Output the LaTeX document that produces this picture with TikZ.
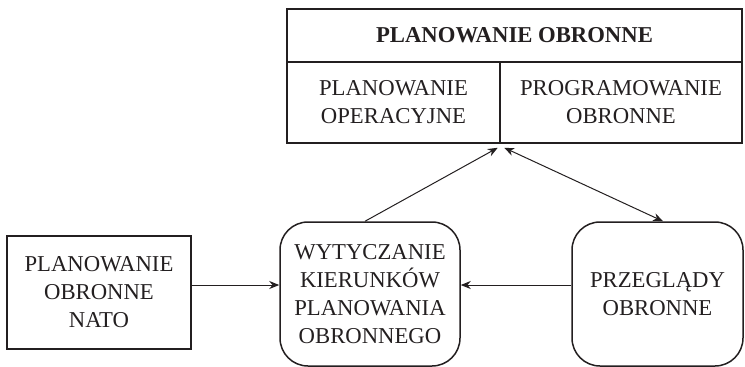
\documentclass[tikz,border=0pt]{standalone}
\usepackage{fontspec}
\setmainfont{Liberation Serif}
\usepackage{tikz}
\usetikzlibrary{arrows.meta,positioning}
\usepackage{xcolor}
\definecolor{dfdark}{RGB}{35,31,32}
\tikzstyle{arrow} = [line width=0.5pt,-{Stealth[length=5pt,width=4pt]},color=dfdark]
\tikzstyle{dblarrow} = [arrow,{Stealth[length=5pt,width=4pt]}-{Stealth[length=5pt,width=4pt]}]
\tikzstyle{block} = [rectangle, draw=dfdark, text=dfdark, line width=0.75pt, align=center, inner sep=2pt, font=\fontsize{11.35}{14}\selectfont]
\tikzstyle{roundblock} = [block, rounded corners=14pt]

\begin{document}
\begin{tikzpicture}[x=0.5pt, y=-0.5pt]
\useasboundingbox (0,0) rectangle (745,366);
% Planowanie obronne (top table)
\node (plan) [block, minimum width=227.5pt, minimum height=26.5pt, font=\fontsize{11.35}{14}\selectfont\bfseries] at (514.5,35.5) {PLANOWANIE OBRONNE};
\node (oper) [block, minimum width=106.5pt, minimum height=40.5pt] at (393.5,102.5) {PLANOWANIE\\OPERACYJNE};
\node (prog) [block, minimum width=121pt, minimum height=40.5pt] at (621,102.5) {PROGRAMOWANIE\\OBRONNE};

% Lower row
\node (nato) [block, minimum width=92pt, minimum height=56.5pt] at (99,292.5) {PLANOWANIE\\OBRONNE\\NATO};
\node (wyt) [roundblock, minimum width=90pt, minimum height=72pt] at (370,294) {WYTYCZANIE\\KIERUNKÓW\\PLANOWANIA\\OBRONNEGO};
\node (przeg) [roundblock, minimum width=85.5pt, minimum height=72pt] at (657.5,294) {PRZEGLĄDY\\OBRONNE};

% Connections
\draw[arrow] ([yshift=3.75pt]nato.east) -- ([yshift=4.5pt]wyt.west);
\draw[arrow] ([yshift=4.5pt]przeg.west) -- ([yshift=4.5pt]wyt.east);
\draw[arrow] ([xshift=-2.5pt]wyt.north) -- ([xshift=-1.5pt,yshift=-2pt]oper.south east);
\draw[dblarrow] ([xshift=2.5pt,yshift=-2pt]prog.south west) -- ([xshift=2.75pt]przeg.north);
\end{tikzpicture}
\end{document}
